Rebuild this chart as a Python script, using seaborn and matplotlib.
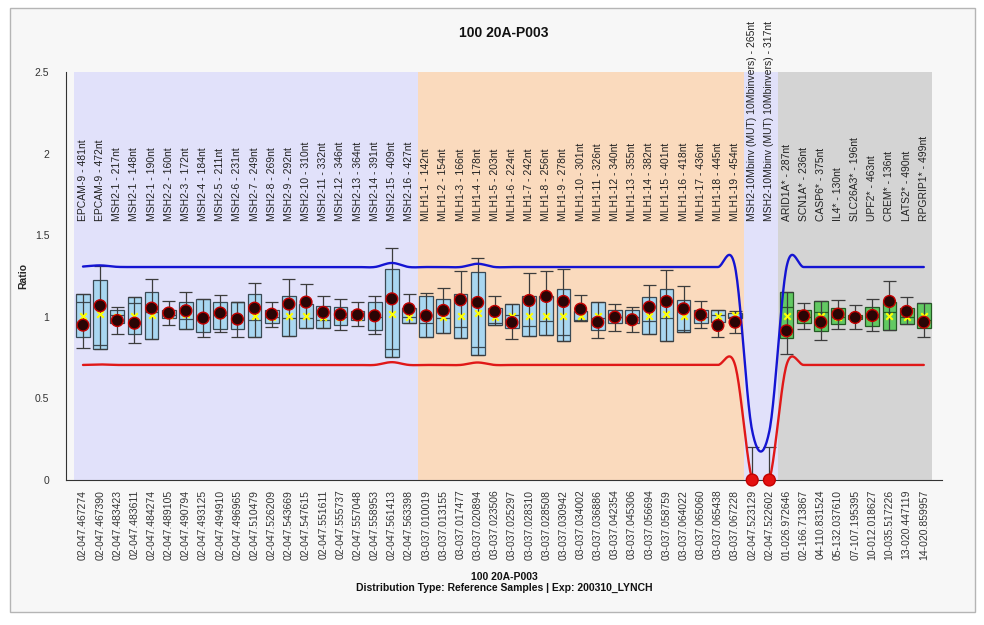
import numpy as np
import pandas as pd
import matplotlib
matplotlib.use("Agg")
import matplotlib.pyplot as plt
from matplotlib.patches import Rectangle
import seaborn as sns

# ---- probe annotations -------------------------------------------------------
probe_names = [
    "EPCAM-9 - 481nt", "EPCAM-9 - 472nt", "MSH2-1 - 217nt", "MSH2-1 - 148nt",
    "MSH2-1 - 190nt", "MSH2-2 - 160nt", "MSH2-3 - 172nt", "MSH2-4 - 184nt",
    "MSH2-5 - 211nt", "MSH2-6 - 231nt", "MSH2-7 - 249nt", "MSH2-8 - 269nt",
    "MSH2-9 - 292nt", "MSH2-10 - 310nt", "MSH2-11 - 332nt", "MSH2-12 - 346nt",
    "MSH2-13 - 364nt", "MSH2-14 - 391nt", "MSH2-15 - 409nt", "MSH2-16 - 427nt",
    "MLH1-1 - 142nt", "MLH1-2 - 154nt", "MLH1-3 - 166nt", "MLH1-4 - 178nt",
    "MLH1-5 - 203nt", "MLH1-6 - 224nt", "MLH1-7 - 242nt", "MLH1-8 - 256nt",
    "MLH1-9 - 278nt", "MLH1-10 - 301nt", "MLH1-11 - 326nt", "MLH1-12 - 340nt",
    "MLH1-13 - 355nt", "MLH1-14 - 382nt", "MLH1-15 - 401nt", "MLH1-16 - 418nt",
    "MLH1-17 - 436nt", "MLH1-18 - 445nt", "MLH1-19 - 454nt",
    "MSH2-10Mbinv (MUT) 10Mbinvers) - 265nt",
    "MSH2-10Mbinv (MUT) 10Mbinvers) - 317nt",
    "ARID1A* - 287nt", "SCN1A* - 236nt", "CASP6* - 375nt", "IL4* - 130nt",
    "SLC26A3* - 196nt", "UPF2* - 463nt", "CREM* - 136nt", "LATS2* - 490nt",
    "RPGRIP1* - 499nt",
]

probe_ids = [
    "02-047.467274", "02-047.467390", "02-047.483423", "02-047.483611",
    "02-047.484274", "02-047.489105", "02-047.490794", "02-047.493125",
    "02-047.494910", "02-047.496965", "02-047.510479", "02-047.526209",
    "02-047.543669", "02-047.547615", "02-047.551611", "02-047.555737",
    "02-047.557048", "02-047.558953", "02-047.561413", "02-047.563398",
    "03-037.010019", "03-037.013155", "03-037.017477", "03-037.020894",
    "03-037.023506", "03-037.025297", "03-037.028310", "03-037.028508",
    "03-037.030942", "03-037.034002", "03-037.036886", "03-037.042354",
    "03-037.045306", "03-037.056694", "03-037.058759", "03-037.064022",
    "03-037.065060", "03-037.065438", "03-037.067228", "02-047.523129",
    "02-047.522602", "01-026.972646", "02-166.713867", "04-110.831524",
    "05-132.037610", "07-107.195395", "10-012.018627", "10-035.517226",
    "13-020.447119", "14-020.859957",
]

probe_group = (["MSH2"] * 20 + ["MLH1"] * 19 + ["INV"] * 2 + ["REF"] * 9)

# ---- reference distribution per probe -----------------------------------------
box_high = [1.139, 1.223, 1.043, 1.119, 1.155, 1.039, 1.090, 1.108, 1.090, 1.092,
            1.139, 1.043, 1.129, 1.078, 1.068, 1.057, 1.033, 1.090, 1.292, 1.053,
            1.125, 1.108, 1.139, 1.272, 1.053, 1.078, 1.129, 1.125, 1.170, 1.033,
            1.088, 1.043, 1.039, 1.121, 1.170, 1.104, 1.043, 1.043, 1.023, np.nan,
            np.nan, 1.149, 1.043, 1.098, 1.053, 1.012, 1.063, 1.088, 1.053, 1.084]
box_low = [0.875, 0.801, 0.965, 0.896, 0.865, 0.992, 0.924, 0.906, 0.924, 0.924,
           0.875, 0.965, 0.883, 0.930, 0.930, 0.949, 0.982, 0.920, 0.753, 0.961,
           0.879, 0.900, 0.873, 0.767, 0.947, 0.930, 0.883, 0.890, 0.849, 0.975,
           0.920, 0.965, 0.961, 0.896, 0.849, 0.904, 0.965, 0.971, 0.992, np.nan,
           np.nan, 0.869, 0.965, 0.914, 0.955, 0.986, 0.945, 0.920, 0.955, 0.930]
box_mid = [1.088, 0.828, 1.010, 1.084, 1.027, 1.010, 0.986, 1.000, 1.010, 1.090,
           0.982, 1.000, 0.992, 0.990, 0.982, 1.000, 1.010, 1.000, 0.802, 0.998,
           0.965, 0.992, 0.935, 0.814, 0.965, 1.012, 0.941, 0.975, 0.890, 0.980,
           0.992, 1.000, 1.000, 0.975, 0.992, 0.920, 1.000, 1.012, 1.000, np.nan,
           np.nan, 1.057, 1.000, 1.027, 1.000, 1.000, 1.000, 1.027, 1.000, 0.982]
whisker_high = [1.139, 1.313, 1.057, 1.119, 1.231, 1.094, 1.149, 1.108, 1.135, 1.092,
                1.210, 1.092, 1.231, 1.204, 1.125, 1.108, 1.088, 1.125, 1.423, 1.139,
                1.145, 1.176, 1.278, 1.362, 1.125, 1.078, 1.268, 1.282, 1.292, 1.131,
                1.088, 1.078, 1.057, 1.196, 1.288, 1.186, 1.098, 1.043, 1.037, 0.200,
                0.200, 1.149, 1.084, 1.098, 1.104, 1.070, 1.108, 1.221, 1.119, 1.084]
whisker_low = [0.808, 0.801, 0.896, 0.838, 0.865, 0.951, 0.924, 0.875, 0.906, 0.879,
               0.875, 0.937, 0.883, 0.930, 0.930, 0.920, 0.941, 0.896, 0.753, 0.961,
               0.875, 0.900, 0.873, 0.767, 0.947, 0.865, 0.883, 0.890, 0.849, 0.975,
               0.869, 0.914, 0.906, 0.896, 0.849, 0.904, 0.930, 0.875, 0.900, 0.000,
               0.000, 0.773, 0.924, 0.859, 0.924, 0.924, 0.914, 0.920, 0.955, 0.875]
mean_ratio = [1.002, 1.018, 1.000, 1.006, 1.012, 1.010, 1.020, 1.000, 1.010, 1.000,
              1.006, 1.000, 1.002, 1.002, 1.000, 1.000, 1.000, 1.000, 1.018, 1.000,
              1.000, 1.000, 1.006, 1.022, 1.000, 1.002, 1.006, 1.006, 1.006, 1.006,
              1.002, 1.000, 1.000, 1.006, 1.018, 1.006, 1.000, 1.002, 1.012, np.nan,
              np.nan, 1.006, 1.000, 1.006, 1.000, 1.000, 1.000, 1.002, 0.996, 1.006]

# ---- sample ratios and decision limits ----------------------------------------
sample_ratio = [0.949, 1.068, 0.977, 0.961, 1.053, 1.023, 1.037, 0.992, 1.023, 0.986,
                1.053, 1.016, 1.078, 1.090, 1.027, 1.014, 1.012, 1.006, 1.110, 1.049,
                1.006, 1.039, 1.104, 1.088, 1.033, 0.965, 1.100, 1.125, 1.094, 1.047,
                0.967, 0.998, 0.982, 1.059, 1.094, 1.049, 1.012, 0.947, 0.967, 0.000,
                0.000, 0.914, 1.006, 0.967, 1.016, 0.996, 1.008, 1.094, 1.033, 0.967]
upper_limit = [1.308, 1.315, 1.306, 1.305, 1.305, 1.305, 1.305, 1.305, 1.305, 1.305,
               1.305, 1.305, 1.305, 1.305, 1.305, 1.305, 1.305, 1.305, 1.330, 1.305,
               1.305, 1.305, 1.305, 1.325, 1.305, 1.305, 1.305, 1.305, 1.305, 1.305,
               1.305, 1.305, 1.305, 1.305, 1.305, 1.305, 1.305, 1.305, 1.305, 0.300,
               0.300, 1.305, 1.305, 1.305, 1.305, 1.305, 1.305, 1.305, 1.305, 1.305]
lower_limit = [0.705, 0.708, 0.705, 0.705, 0.705, 0.705, 0.705, 0.705, 0.705, 0.705,
               0.705, 0.705, 0.705, 0.705, 0.705, 0.705, 0.705, 0.705, 0.722, 0.705,
               0.705, 0.705, 0.705, 0.720, 0.705, 0.705, 0.705, 0.705, 0.705, 0.705,
               0.705, 0.705, 0.705, 0.705, 0.705, 0.705, 0.705, 0.705, 0.705, 0.000,
               0.000, 0.705, 0.705, 0.705, 0.705, 0.705, 0.705, 0.705, 0.705, 0.705]

group_colors = {"MSH2": "#e1e1fa", "MLH1": "#fadabd", "INV": "#e1e1fa", "REF": "#d4d4d4"}
box_fill = {"MSH2": "#a9d7f1", "MLH1": "#a9d7f1", "INV": "#a9d7f1", "REF": "#62c962"}
box_edge = {"MSH2": "#3a4a55", "MLH1": "#3a4a55", "INV": "#3a4a55", "REF": "#245a24"}


def smooth_curve(xk, yk, per_seg=24):
    """Catmull-Rom curve through the knots (one cubic piece per interval)."""
    xk = np.asarray(xk, float)
    yk = np.asarray(yk, float)
    n = len(yk)
    m = np.empty(n)
    m[1:-1] = (yk[2:] - yk[:-2]) / 2
    m[0] = yk[1] - yk[0]
    m[-1] = yk[-1] - yk[-2]
    xs, ys = [], []
    for i in range(n - 1):
        t = np.linspace(0, 1, per_seg, endpoint=(i == n - 2))
        h00 = 2 * t ** 3 - 3 * t ** 2 + 1
        h10 = t ** 3 - 2 * t ** 2 + t
        h01 = -2 * t ** 3 + 3 * t ** 2
        h11 = t ** 3 - t ** 2
        xs.append(xk[i] + t * (xk[i + 1] - xk[i]))
        ys.append(h00 * yk[i] + h10 * m[i] + h01 * yk[i + 1] + h11 * m[i + 1])
    return np.concatenate(xs), np.concatenate(ys)


sns.set_style("white")
plt.rcParams["font.family"] = ["Liberation Sans", "DejaVu Sans"]

fig = plt.figure(figsize=(9.84, 6.25), dpi=100, facecolor="white")
fig.patches.append(Rectangle((10 / 984, 13 / 625), 965 / 984, 604 / 625,
                             transform=fig.transFigure, facecolor="#f7f7f7",
                             edgecolor="#b5b5b5", lw=1.0, zorder=-10))
ax = fig.add_axes([66 / 984, 145 / 625, 876 / 984, 408 / 625])
ax.set_facecolor("none")

n = len(probe_ids)
pos = np.arange(n)

# group background bands
start = 0
for i in range(1, n + 1):
    if i == n or probe_group[i] != probe_group[start]:
        ax.axvspan(start - 0.5, i - 0.5, color=group_colors[probe_group[start]],
                   lw=0, zorder=0)
        start = i

# boxes, whiskers and caps
bw, cw = 0.80, 0.76
for i in range(n):
    g = probe_group[i]
    ec = box_edge[g]
    if np.isfinite(box_high[i]):
        ax.bar(pos[i], box_high[i] - box_low[i], bottom=box_low[i], width=bw,
               color=box_fill[g], edgecolor=ec, linewidth=0.9, zorder=3)
        ax.hlines(box_mid[i], pos[i] - bw / 2, pos[i] + bw / 2, color=ec,
                  lw=0.9, zorder=4)
    ax.vlines(pos[i], whisker_low[i], whisker_high[i], color="#3c3c3c", lw=0.9,
              zorder=4)
    ax.hlines([whisker_low[i], whisker_high[i]], pos[i] - cw / 2, pos[i] + cw / 2,
              color="#3c3c3c", lw=0.9, zorder=4)

# decision limits
ux, uy = smooth_curve(pos, upper_limit)
lx, ly = smooth_curve(pos, lower_limit)
sns.lineplot(x=ux, y=uy, color="#1414d2", lw=1.7, sort=False, estimator=None,
             ax=ax, zorder=5)
sns.lineplot(x=lx, y=ly, color="#e01818", lw=1.7, sort=False, estimator=None,
             ax=ax, zorder=5)

# reference mean markers
sns.scatterplot(x=pos, y=mean_ratio, marker="x", color="#ffff00", s=22,
                linewidth=1.5, ax=ax, zorder=6, legend=False)

# sample ratios
status = np.where(np.asarray(sample_ratio) < np.asarray(lower_limit) + 0.05,
                  "loss", "normal")
df = pd.DataFrame({"pos": pos, "ratio": sample_ratio, "status": status})
sns.scatterplot(data=df, x="pos", y="ratio", hue="status",
                palette={"normal": "#2a0505", "loss": "#e41010"},
                edgecolor="#c40000", linewidth=1.0, s=72, ax=ax, zorder=7,
                legend=False, clip_on=False)

# probe names above the boxes
for i in range(n):
    ax.text(pos[i], 1.585, probe_names[i], rotation=90, ha="center", va="bottom",
            fontsize=7.5, color="#222222", zorder=8, clip_on=False)

ax.set_xlim(-0.99, 50.06)
ax.set_ylim(0, 2.5)
ax.set_xticks(pos)
ax.set_xticklabels(probe_ids, rotation=90, fontsize=7.5, color="#333333")
yt = [0, 0.5, 1, 1.5, 2, 2.5]
ax.set_yticks(yt)
ax.set_yticklabels(["0", "0.5", "1", "1.5", "2", "2.5"], fontsize=7.5,
                   color="#333333")
ax.tick_params(axis="both", direction="out", length=5, width=0.8,
               color="#333333", pad=2)
ax.tick_params(axis="y", length=6, pad=6)
for s in ["top", "right"]:
    ax.spines[s].set_visible(False)
for s in ["left", "bottom"]:
    ax.spines[s].set_color("#333333")
    ax.spines[s].set_linewidth(0.8)
ax.set_xlabel("")
ax.set_ylabel("Ratio", fontsize=7.5, fontweight="bold", labelpad=5)

fig.text(504 / 984, 1 - 33 / 625, "100 20A-P003", ha="center", va="center",
         fontsize=10, fontweight="bold", color="#111111")
fig.text(504 / 984, 1 - 577 / 625, "100 20A-P003", ha="center", va="center",
         fontsize=7.5, fontweight="bold", color="#111111")
fig.text(504 / 984, 1 - 588 / 625,
         "Distribution Type: Reference Samples | Exp: 200310_LYNCH",
         ha="center", va="center", fontsize=7.5, fontweight="bold",
         color="#111111")

fig.savefig("out.png", dpi=100, facecolor=fig.get_facecolor())
